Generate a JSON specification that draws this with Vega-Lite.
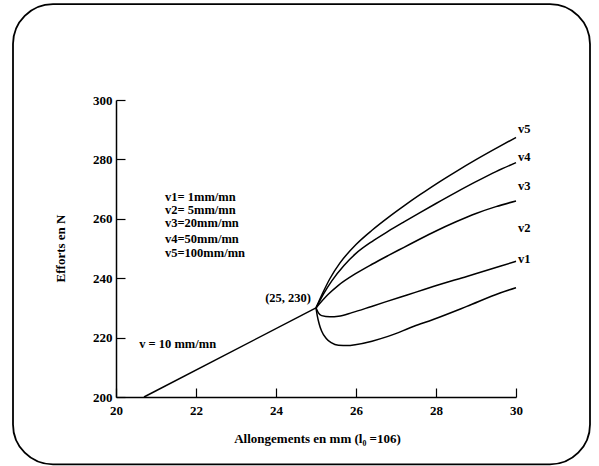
{
  "$schema": "https://vega.github.io/schema/vega-lite/v6.json",
  "width": 400,
  "height": 297,
  "autosize": "none",
  "padding": {"left": 116, "top": 100, "right": 83, "bottom": 69},
  "background": "white",
  "config": {
    "view": {"stroke": null},
    "font": "Liberation Serif",
    "axis": {
      "grid": false, "tickSize": -9, "labelFlush": false,
      "domainColor": "black", "domainWidth": 1.5, "tickColor": "black", "tickWidth": 1.2,
      "labelFont": "Liberation Serif", "labelFontSize": 13, "labelFontWeight": "bold", "labelColor": "black",
      "titleFont": "Liberation Serif", "titleFontSize": 13, "titleFontWeight": "bold", "titleColor": "black"
    }
  },
  "datasets": {
    "curves": [
      {"s": "base", "x": 20.7, "y": 200}, {"s": "base", "x": 25, "y": 230},
      {"s": "c5", "x": 25, "y": 230}, {"s": "c5", "x": 25.15, "y": 234.5}, {"s": "c5", "x": 25.35, "y": 239.9}, {"s": "c5", "x": 25.6, "y": 245.15}, {"s": "c5", "x": 26, "y": 251.35}, {"s": "c5", "x": 26.4, "y": 256.15}, {"s": "c5", "x": 26.8, "y": 260.4}, {"s": "c5", "x": 27.2, "y": 264.35}, {"s": "c5", "x": 27.6, "y": 268.1}, {"s": "c5", "x": 28, "y": 271.7}, {"s": "c5", "x": 28.5, "y": 275.9}, {"s": "c5", "x": 29, "y": 279.9}, {"s": "c5", "x": 29.5, "y": 283.7}, {"s": "c5", "x": 30, "y": 287.4},
      {"s": "c4", "x": 25, "y": 230}, {"s": "c4", "x": 25.2, "y": 235}, {"s": "c4", "x": 25.4, "y": 239.2}, {"s": "c4", "x": 25.7, "y": 244.3}, {"s": "c4", "x": 26, "y": 248.35}, {"s": "c4", "x": 26.4, "y": 252.35}, {"s": "c4", "x": 26.8, "y": 255.75}, {"s": "c4", "x": 27.2, "y": 258.95}, {"s": "c4", "x": 27.6, "y": 262.07}, {"s": "c4", "x": 28, "y": 265.15}, {"s": "c4", "x": 28.5, "y": 268.9}, {"s": "c4", "x": 29, "y": 272.5}, {"s": "c4", "x": 29.5, "y": 275.9}, {"s": "c4", "x": 30, "y": 278.9},
      {"s": "c3", "x": 25, "y": 230}, {"s": "c3", "x": 25.3, "y": 234.5}, {"s": "c3", "x": 25.56, "y": 237.6}, {"s": "c3", "x": 26, "y": 241.6}, {"s": "c3", "x": 26.4, "y": 244.7}, {"s": "c3", "x": 26.8, "y": 247.6}, {"s": "c3", "x": 27.2, "y": 250.4}, {"s": "c3", "x": 27.6, "y": 253.2}, {"s": "c3", "x": 28, "y": 255.9}, {"s": "c3", "x": 28.5, "y": 259.0}, {"s": "c3", "x": 29, "y": 261.8}, {"s": "c3", "x": 29.5, "y": 264.1}, {"s": "c3", "x": 30, "y": 266.0},
      {"s": "c2", "x": 25, "y": 230}, {"s": "c2", "x": 25.06, "y": 228.3}, {"s": "c2", "x": 25.14, "y": 227.4}, {"s": "c2", "x": 25.35, "y": 227}, {"s": "c2", "x": 25.56, "y": 227.2}, {"s": "c2", "x": 25.9, "y": 228.4}, {"s": "c2", "x": 26.39, "y": 230.5}, {"s": "c2", "x": 27.1, "y": 233.6}, {"s": "c2", "x": 27.5, "y": 235.3}, {"s": "c2", "x": 27.93, "y": 237.2}, {"s": "c2", "x": 28.77, "y": 240.6}, {"s": "c2", "x": 29.6, "y": 244}, {"s": "c2", "x": 30, "y": 245.7},
      {"s": "c1", "x": 25, "y": 230}, {"s": "c1", "x": 25.03, "y": 227.5}, {"s": "c1", "x": 25.08, "y": 224.6}, {"s": "c1", "x": 25.14, "y": 222.2}, {"s": "c1", "x": 25.25, "y": 219.8}, {"s": "c1", "x": 25.38, "y": 218.3}, {"s": "c1", "x": 25.56, "y": 217.4}, {"s": "c1", "x": 25.8, "y": 217.3}, {"s": "c1", "x": 25.98, "y": 217.6}, {"s": "c1", "x": 26.4, "y": 218.8}, {"s": "c1", "x": 26.8, "y": 220.4}, {"s": "c1", "x": 27.45, "y": 223.8}, {"s": "c1", "x": 27.93, "y": 226.1}, {"s": "c1", "x": 28.77, "y": 230.5}, {"s": "c1", "x": 29.6, "y": 235}, {"s": "c1", "x": 30, "y": 236.8}
    ],
    "leftText": [
      {"t": "v5", "x": 30.05, "y": 290.1},
      {"t": "v4", "x": 30.05, "y": 280.7},
      {"t": "v3", "x": 30.05, "y": 271.1},
      {"t": "v2", "x": 30.05, "y": 256.9},
      {"t": "v1", "x": 30.05, "y": 246.4},
      {"t": "v1= 1mm/mn", "x": 21.225, "y": 267.5},
      {"t": "v2= 5mm/mn", "x": 21.225, "y": 263.0},
      {"t": "v3=20mm/mn", "x": 21.225, "y": 258.6},
      {"t": "v4=50mm/mn", "x": 21.225, "y": 253.2},
      {"t": "v5=100mm/mn", "x": 21.225, "y": 248.5},
      {"t": "v = 10 mm/mn", "x": 20.58, "y": 218.0}
    ],
    "rightText": [
      {"t": "(25, 230)", "x": 24.875, "y": 233.4}
    ]
  },
  "layer": [
    {
      "data": {"name": "curves"},
      "mark": {"type": "line", "interpolate": "monotone", "color": "black", "strokeWidth": 1.5},
      "encoding": {
        "x": {
          "field": "x", "type": "quantitative",
          "scale": {"domain": [20, 30], "nice": false, "zero": false},
          "axis": {
            "title": "Allongements en mm (l₀ =106)",
            "values": [20, 22, 24, 26, 28, 30], "format": "d",
            "labelPadding": 16,
            "titleX": 201, "titleY": 41, "titleAlign": "center", "titleBaseline": "middle"
          }
        },
        "y": {
          "field": "y", "type": "quantitative",
          "scale": {"domain": [200, 300], "nice": false, "zero": false},
          "axis": {
            "title": "Efforts en N",
            "values": [200, 220, 240, 260, 280, 300],
            "labelPadding": 13,
            "titleX": -56, "titleY": 148, "titleAngle": -90, "titleAlign": "center", "titleBaseline": "middle"
          }
        },
        "detail": {"field": "s"}
      }
    },
    {
      "data": {"values": [{}]},
      "mark": {"type": "rect", "fill": null, "stroke": "black", "strokeWidth": 1.8, "cornerRadius": 40, "clip": false},
      "encoding": {
        "x": {"datum": 17.425, "type": "quantitative"},
        "x2": {"datum": 31.85},
        "y": {"datum": 332.3, "type": "quantitative"},
        "y2": {"datum": 177.3}
      }
    },
    {
      "data": {"name": "leftText"},
      "mark": {"type": "text", "align": "left", "baseline": "middle", "font": "Liberation Serif", "fontSize": 12.5, "fontWeight": "bold", "color": "black"},
      "encoding": {
        "x": {"field": "x", "type": "quantitative"},
        "y": {"field": "y", "type": "quantitative"},
        "text": {"field": "t"}
      }
    },
    {
      "data": {"name": "rightText"},
      "mark": {"type": "text", "align": "right", "baseline": "middle", "font": "Liberation Serif", "fontSize": 12.5, "fontWeight": "bold", "color": "black"},
      "encoding": {
        "x": {"field": "x", "type": "quantitative"},
        "y": {"field": "y", "type": "quantitative"},
        "text": {"field": "t"}
      }
    }
  ]
}
